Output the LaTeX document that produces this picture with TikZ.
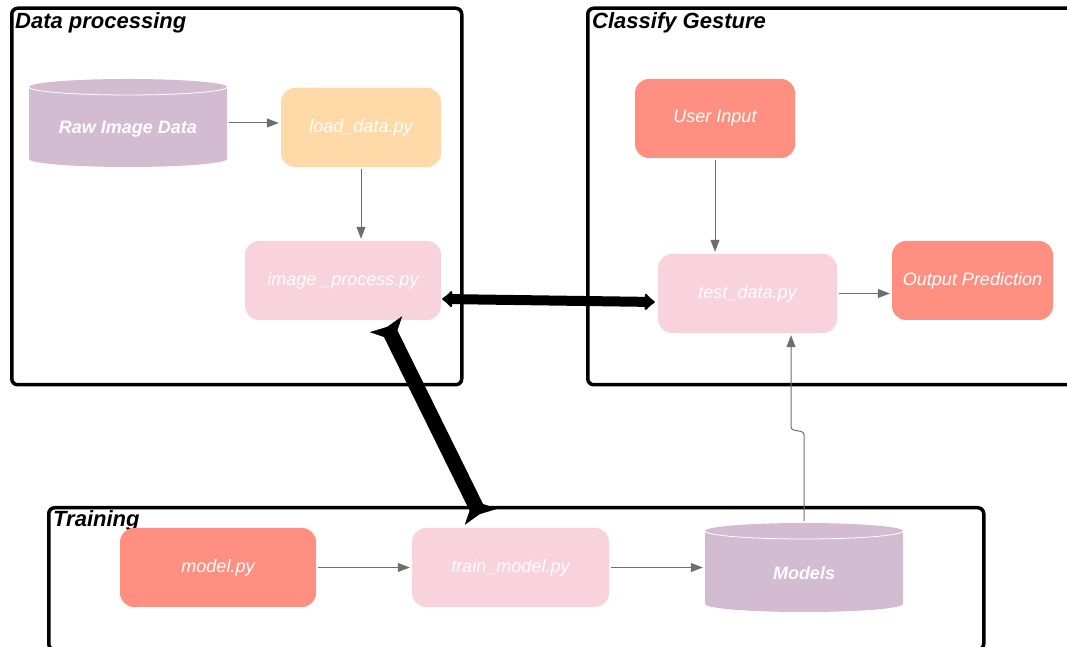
\documentclass[tikz,border=0pt]{standalone}
\usepackage{fontspec}
\setmainfont{Liberation Sans}
\usetikzlibrary{arrows.meta}
\definecolor{cylfill}{HTML}{D3BCD2}
\definecolor{loadfill}{HTML}{FFDAA8}
\definecolor{pinkfill}{HTML}{F8D2DD}
\definecolor{salmon}{HTML}{FF8F80}
\definecolor{flowgray}{HTML}{6E6E6E}

\begin{document}
\begin{tikzpicture}[x=1pt,y=1pt,
  frame/.style={draw=black, line width=3.5pt, rounded corners=6pt, inner sep=0pt, anchor=north west},
  frametitle/.style={anchor=base west, inner sep=0pt, font=\fontsize{22}{26}\selectfont\bfseries\itshape},
  box/.style={rounded corners=14pt, inner sep=0pt, text=white, minimum height=79pt,
    font=\fontsize{18}{21}\selectfont\itshape},
  store/.style={minimum width=198pt, minimum height=88pt, inner sep=0pt, text=white,
    font=\fontsize{18}{21}\selectfont\bfseries\itshape,
    path picture={
      \fill[cylfill] ([yshift=-8pt]path picture bounding box.north west)
        -- ([yshift=8pt]path picture bounding box.south west)
        arc[start angle=180, end angle=360, x radius=99pt, y radius=8pt]
        -- ([yshift=-8pt]path picture bounding box.north east)
        arc[start angle=0, end angle=180, x radius=99pt, y radius=8pt] -- cycle;
      \draw[white, line width=0.8pt] ([yshift=-8pt]path picture bounding box.north west)
        arc[start angle=180, end angle=360, x radius=99pt, y radius=8pt];
    }},
  flow/.style={draw=flowgray, line width=1pt, -{Triangle[length=12pt,width=9pt]},
    shorten >=2pt, shorten <=2pt},
  link/.style={draw=black, line width=10pt,
    {Latex[length=11pt,width=21pt,round]}-{Latex[length=11pt,width=21pt,round]}},
  flare/.tip={Stealth[reversed,length=18pt,width=36pt,inset=3pt]},
  slantlink/.style={draw=black, line width=0.5pt, {flare}-{flare},
    preaction={draw=black, -, line width=15pt, shorten <=3pt, shorten >=3pt}}
]
\useasboundingbox (0,0) rectangle (1067,647);

% group frames
\node[frame, minimum width=450pt, minimum height=376.5pt] (dp) at (10,640.5) {};
\node[frame, minimum width=490pt, minimum height=376.5pt] (cg) at (586,640.5) {};
\node[frame, minimum width=935pt, minimum height=142pt] (tr) at (47,141) {};

\node[frametitle] (dpt) at (15,618) {Data processing};
\node[frametitle] (cgt) at (592,618) {Classify Gesture};
\node[frametitle] (trt) at (53,120) {Training};

% data processing
\node[store, text height=25pt, text depth=4pt] (raw) at (128,524) {Raw Image Data};
\node[box, fill=loadfill, minimum width=160pt] (load) at (361,519.5) {load\_data.py};
\node[box, fill=pinkfill, minimum width=196pt] (ip) at (343,366.5) {image \_process.py};

% classification
\node[box, fill=salmon, minimum width=160pt] (ui) at (715,528.5) {User Input};
\node[box, fill=pinkfill, minimum width=179pt] (td) at (747.5,353.5) {test\_data.py};
\node[box, fill=salmon, minimum width=161pt] (op) at (972.5,366.5) {Output Prediction};

% training
\node[box, fill=salmon, minimum width=196pt] (mp) at (218,79.5) {model.py};
\node[box, fill=pinkfill, minimum width=197pt] (tm) at (510.5,79.5) {train\_model.py};
\node[store, minimum height=89pt, text height=29pt, text depth=4pt] (models) at (804,79.5) {Models};

% thin flows
\draw[flow] (raw.east) -- (raw.east -| load.west);
\draw[flow] (load.south) -- (load.south |- ip.north);
\draw[flow] (ui.south) -- (ui.south |- td.north);
\draw[flow] (td.east) -- (td.east -| op.west);
\draw[flow] (mp.east) -- (tm.west);
\draw[flow] (tm.east) -- (tm.east -| models.west);
\draw[flow] (models.north) -- ++(0,88) to[out=90,in=-90] ++(-13,8) -- ([xshift=43.5pt]td.south);

% thick links between groups
\draw[link] ([xshift=1pt,yshift=-18.5pt]ip.east) -- ([xshift=-3pt,yshift=-8.5pt]td.west);
\draw[slantlink] ([xshift=43pt,yshift=-4pt]ip.south) -- ([xshift=-29.5pt,yshift=11pt]tm.north);
\end{tikzpicture}
\end{document}
